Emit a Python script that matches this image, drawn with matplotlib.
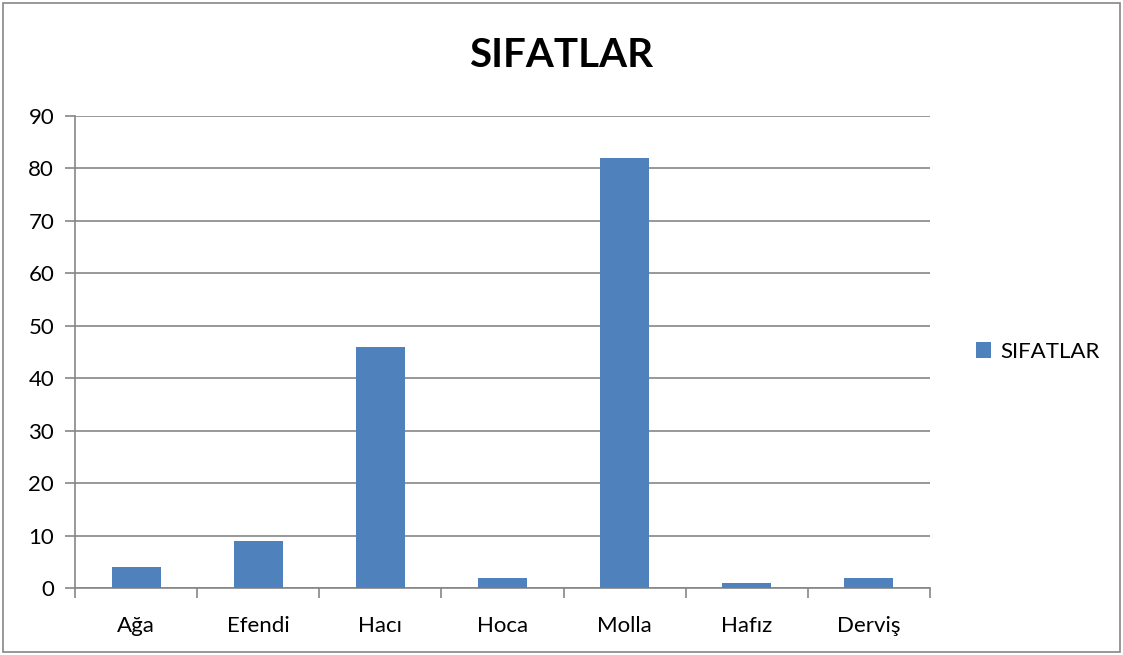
import matplotlib
matplotlib.use("Agg")
from matplotlib import pyplot as plt
from matplotlib.patches import Rectangle

categories = ["Ağa", "Efendi", "Hacı", "Hoca", "Molla", "Hafız", "Derviş"]
values = [4, 9, 46, 2, 82, 1, 2]
series_name = "SIFATLAR"
yticks = [0, 10, 20, 30, 40, 50, 60, 70, 80, 90]

plt.rcParams['font.family'] = ['Lato', 'DejaVu Sans']

fig = plt.figure(figsize=(11.23, 6.55), dpi=100)
ax = fig.add_axes([0.0668, 0.1023, 0.7613, 0.7206])

x = list(range(len(categories)))
bars = ax.bar(x, values, width=0.4, color="#4F81BD", label=series_name, zorder=3)

ax.set_xlim(-0.5, len(categories) - 0.5)
ax.set_ylim(0, 90)
ax.set_yticks(yticks)
ax.set_yticklabels([str(v) for v in yticks], fontsize=16)
ax.yaxis.grid(True, color="#868686", linewidth=1.2, zorder=0)

# category ticks sit between the bars, labels sit under the bars
ax.set_xticks([i - 0.5 for i in range(len(categories) + 1)])
ax.set_xticklabels([])
ax.set_xticks(x, minor=True)
ax.set_xticklabels(categories, minor=True, fontsize=16)
ax.tick_params(axis="x", which="minor", length=0, pad=20)
ax.tick_params(axis="x", which="major", length=7, color="#868686", width=1.2)
ax.tick_params(axis="y", length=7, color="#868686", width=1.2, pad=8)

for side in ["top", "right"]:
    ax.spines[side].set_visible(False)
for side in ["left", "bottom"]:
    ax.spines[side].set_color("#868686")
    ax.spines[side].set_linewidth(1.2)

fig.text(0.5, 0.916, series_name, fontsize=29, fontweight="bold", ha="center", va="center")

ax.legend(loc="center left", bbox_to_anchor=(1.03, 0.5), frameon=False,
          fontsize=16, handlelength=0.7, handleheight=0.7, handletextpad=0.4)

fig.patches.append(Rectangle((0.003, 0.004), 0.994, 0.992, transform=fig.transFigure,
                             fill=False, edgecolor="#868686", linewidth=1.2))

fig.savefig("out.png", dpi=100)
